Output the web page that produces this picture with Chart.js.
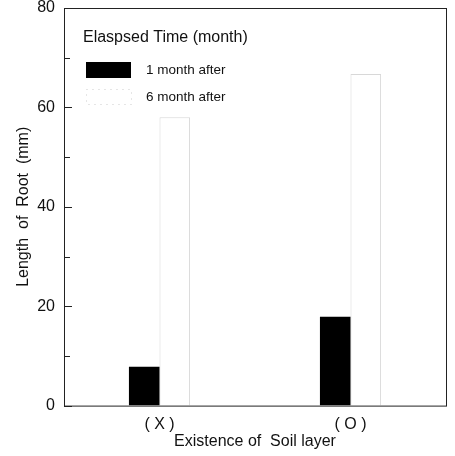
<!DOCTYPE html>
<html>
<head>
<meta charset="utf-8">
<script src="https://cdn.jsdelivr.net/npm/chart.js@4.4.1/dist/chart.umd.min.js"></script>
<style>
  html,body{margin:0;padding:0;background:#fff;}
  #wrap{width:455px;height:456px;position:relative;}
</style>
</head>
<body>
<div id="wrap"><canvas id="chart" width="455" height="456"></canvas></div>
<script>
const categories=['( X )','( O )'];
const seriesNames=['1 month after','6 month after'];
const oneMonth=[7.8,17.9];
const sixMonth=[58,66.7];
const yTicks=[0,20,40,60,80];
const legendTitle='Elaspsed Time (month)';

const FONT='"Liberation Sans", Arial, Helvetica, sans-serif';

// full box round the plot + inward ticks
const frame={
  id:'frame',
  afterDraw(chart){
    const {ctx,chartArea:a,scales}=chart;
    ctx.save();
    ctx.strokeStyle='#222';
    ctx.lineWidth=1;
    ctx.strokeRect(a.left+0.5,a.top+0.5,a.right-a.left,a.bottom-a.top);
    for(let v=0;v<=80;v+=10){
      const y=Math.round(scales.y.getPixelForValue(v))+0.5;
      ctx.beginPath();
      ctx.moveTo(a.left,y);
      ctx.lineTo(a.left+(v%20===0?8:6),y);
      ctx.stroke();
    }
    ctx.restore();
  }
};

// legend drawn inside the plot, top left
const innerLegend={
  id:'innerLegend',
  afterDraw(chart){
    const {ctx,chartArea:a}=chart;
    const x=a.left+19, y=a.top+30;
    ctx.save();
    ctx.fillStyle='#111';
    ctx.textBaseline='middle';
    ctx.font='16px '+FONT;
    ctx.fillText(legendTitle,x,y);
    ctx.font='13.5px '+FONT;
    chart.data.datasets.forEach((ds,i)=>{
      const yy=y+32+i*27;
      ctx.fillStyle=ds.backgroundColor;
      ctx.fillRect(x+3,yy-8,45,16);
      if(i===1){
        ctx.strokeStyle='#ccc';
        ctx.setLineDash([1,5]);
        ctx.strokeRect(x+3.5,yy-7.5,45,15);
        ctx.setLineDash([]);
      }
      ctx.fillStyle='#111';
      ctx.fillText(ds.label,x+63,yy);
    });
    ctx.restore();
  }
};

new Chart(document.getElementById('chart'),{
  type:'bar',
  data:{
    labels:categories,
    datasets:[
      {label:seriesNames[0],data:oneMonth,backgroundColor:'#000',borderWidth:0},
      {label:seriesNames[1],data:sixMonth,backgroundColor:'#fff',borderColor:'#d8d8d8',borderWidth:1}
    ]
  },
  options:{
    responsive:false,
    animation:false,
    devicePixelRatio:1,
    layout:{padding:{top:8,right:9,left:14,bottom:5}},
    datasets:{bar:{categoryPercentage:0.32,barPercentage:1}},
    plugins:{legend:{display:false},tooltip:{enabled:false}},
    scales:{
      x:{
        grid:{display:false,drawTicks:false},
        border:{display:false},
        ticks:{color:'#111',font:{family:FONT,size:16},padding:9},
        title:{display:true,text:'Existence of  Soil layer',color:'#111',font:{family:FONT,size:16},padding:{top:-11,bottom:0}}
      },
      y:{
        min:0,max:80,
        afterBuildTicks(s){s.ticks=yTicks.map(v=>({value:v}));},
        afterFit(s){s.paddingTop=0;},
        grid:{display:false,drawTicks:false},
        border:{display:false},
        ticks:{color:'#111',font:{family:FONT,size:16},padding:9},
        title:{display:true,text:'Length  of  Root  (mm)',color:'#111',font:{family:FONT,size:16},padding:{top:0,bottom:-5}}
      }
    }
  },
  plugins:[frame,innerLegend]
});
</script>
</body>
</html>
